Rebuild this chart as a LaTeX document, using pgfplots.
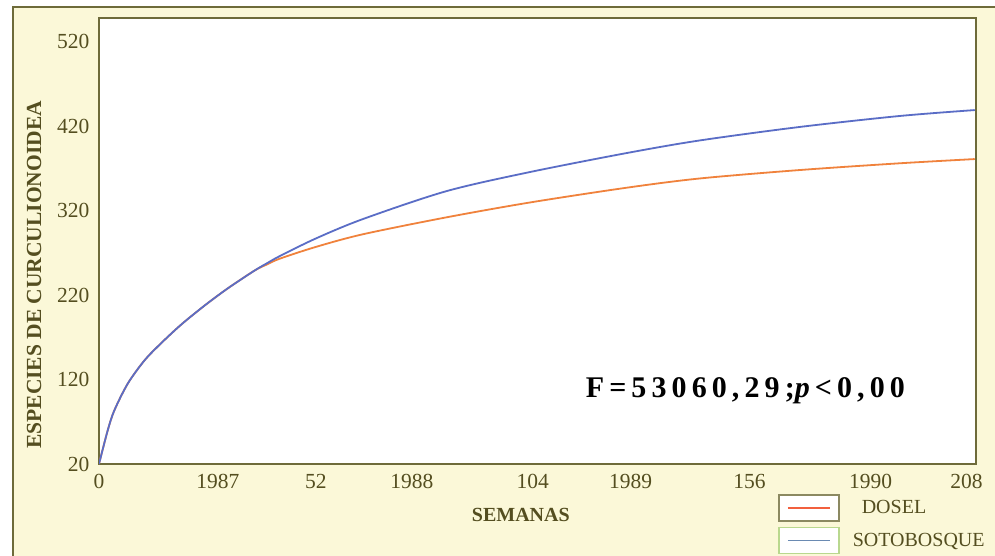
\documentclass[border=0pt]{standalone}
\usepackage{pgfplots}
\pgfplotsset{compat=1.18}
\usepackage{fontspec}
\setmainfont{Liberation Serif}

\definecolor{paper}{HTML}{FBF8D8}
\definecolor{frameol}{HTML}{6E6B3A}
\definecolor{inkol}{HTML}{544E20}
\definecolor{dosel}{HTML}{F0823C}
\definecolor{soto}{HTML}{5A6DC6}
\definecolor{legred}{HTML}{F2603E}
\definecolor{legblue}{HTML}{6A8AB2}
\definecolor{boxgreen}{HTML}{B9D88E}

% accumulated species curves, weeks vs. species
\pgfplotstableread{
x y
0 20
2.1 60
3.7 83.7
6.9 115.2
10.9 142.6
14.9 163
19.7 185
25.3 207.5
30.9 228
37.3 249
40.4 256.5
43.3 263
52 277
63.3 292
83.3 312
103.2 329.5
126.4 347
144 358
168 368
192 376
210 381
}\dosel

\pgfplotstableread{
x y
0 20
2.1 60
3.7 83.7
6.9 115.2
10.9 142.6
14.9 163
19.7 185
25.3 207.5
30.9 228
37.3 249
40.4 258
43.3 266
52 287
63.3 310
83.3 343
103.2 365.5
126.4 388
144 403
168 419
192 432
210 439
}\soto

\begin{document}
\begin{tikzpicture}[x=1pt,y=1pt]
\useasboundingbox (0,0) rectangle (995,555);
\clip (0,0) rectangle (995,555);
\fill[white] (0,0) rectangle (995,555);
% outer panel
\draw[frameol, line width=2.5pt, fill=paper] (13,-20) rectangle (1030,548);

\begin{axis}[
  at={(99pt,91pt)}, anchor=south west,
  scale only axis, width=877pt, height=446pt,
  xmin=0, xmax=210.3, ymin=20, ymax=548,
  axis background/.style={fill=white},
  axis line style={frameol, line width=2pt},
  major tick length=0pt,
  ytick={20,120,220,320,420,520},
  xtick={0,28.5,52,75,104,127.5,156,185,208},
  xticklabels={0,1987,52,1988,104,1989,156,1990,208},
  /pgf/number format/assume math mode=true,
  tick label style={font=\fontsize{21.5}{21.5}\selectfont, text=inkol},
  yticklabel style={xshift=-6pt},
  xticklabel style={yshift=-7pt},
  xlabel={\textbf{SEMANAS}},
  ylabel={\textbf{ESPECIES DE CURCULIONOIDEA}},
  every axis x label/.style={at={(axis description cs:0.481,-0.114)}, anchor=center,
     font=\fontsize{20}{20}\selectfont, text=inkol},
  every axis y label/.style={at={(axis description cs:-0.0741,0.424)}, rotate=90, anchor=center,
     font=\fontsize{21.5}{21.5}\selectfont, text=inkol},
  legend style={at={(axis description cs:0.7742,-0.0673)}, anchor=north west,
     draw=none, fill=none, inner sep=0pt, row sep=5pt, column sep=13pt,
     nodes={inner sep=0pt}, font=\fontsize{20}{20}\selectfont, text=inkol},
  legend cell align=left,
  clip=true,
]
\addplot[dosel, line width=1.8pt, smooth, tension=0.5,
  legend image code/.code={
    \draw[frameol!80, line width=1.6pt, fill=white] (0pt,-13pt) rectangle (60pt,13pt);
    \draw[legred, line width=1.6pt] (9pt,0pt) -- (51pt,0pt);}]
  table[x=x,y=y]{\dosel};
\addlegendentry{\hspace{9pt}DOSEL}
\addplot[soto, line width=1.8pt, smooth, tension=0.5,
  legend image code/.code={
    \draw[boxgreen, line width=1.6pt, fill=white] (0pt,-13pt) rectangle (60pt,13pt);
    \draw[legblue, line width=1.6pt] (9pt,0pt) -- (51pt,0pt);}]
  table[x=x,y=y]{\soto};
\addlegendentry{SOTOBOSQUE}
\node[anchor=base, font=\fontsize{30}{30}\selectfont\bfseries\addfontfeature{LetterSpace=17}]
  at (axis cs:155,99) {F\,=53060,29;\textit{p}<0,00};
\end{axis}
\end{tikzpicture}
\end{document}
